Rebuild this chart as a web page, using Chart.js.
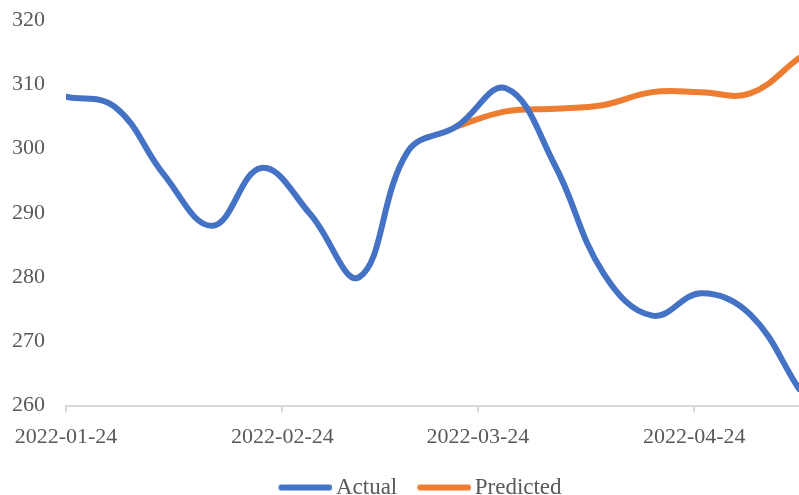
<!DOCTYPE html>
<html>
<head>
<meta charset="utf-8">
<script src="https://cdn.jsdelivr.net/npm/chart.js@4"></script>
<style>
    html, body { margin: 0; padding: 0; background: #ffffff; }
    #wrap { width: 799px; height: 495px; }
</style>
</head>
<body>
<div id="wrap"><canvas id="priceChart"></canvas></div>
<script>
// Weekly observations
const weekDates = [
    '2022-01-24', '2022-01-31', '2022-02-07', '2022-02-14', '2022-02-21', '2022-02-28',
    '2022-03-07', '2022-03-14', '2022-03-21', '2022-03-28', '2022-04-04', '2022-04-11',
    '2022-04-18', '2022-04-25', '2022-05-02', '2022-05-09'
];
const actualValues = [308.1, 306.5, 296.0, 288.0, 297.0, 289.8, 280.0, 299.6,
                      303.5, 309.4, 297.5, 280.6, 274.0, 277.5, 274.2, 262.6];
const predictedValues = [null, null, null, null, null, null, null, null,
                         303.5, 305.8, 306.2, 306.8, 308.8, 308.8, 308.6, 314.1];
const tickLabels = ['2022-01-24', '2022-02-24', '2022-03-24', '2022-04-24'];
const yTicks = [260, 270, 280, 290, 300, 310, 320];

const DAY = 24 * 3600 * 1000;
const origin = Date.parse(weekDates[0]);
const dayOf = s => Math.round((Date.parse(s) - origin) / DAY);
const tickDays = tickLabels.map(dayOf);

function toPoints(values) {
    const pts = [];
    values.forEach((v, i) => {
        if (v !== null) pts.push({ x: dayOf(weekDates[i]), y: v });
    });
    return pts;
}

// Legend swatch: a short thick line with round caps, drawn off-centre so it
// sits close to its label text
function legendLine(color) {
    const c = document.createElement('canvas');
    c.width = 67;
    c.height = 8;
    const g = c.getContext('2d');
    g.strokeStyle = color;
    g.lineWidth = 6;
    g.lineCap = 'round';
    g.beginPath();
    g.moveTo(16, 4);
    g.lineTo(64, 4);
    g.stroke();
    return c;
}

// nudge the bottom legend a little to the right of the canvas centre
const legendOffset = {
    id: 'legendOffset',
    afterLayout(chart) {
        chart.legend.left += 12;
        chart.legend.right += 12;
    }
};

const textColor = '#595959';
const axisColor = '#d9d9d9';
const font = { family: '"Liberation Serif", "DejaVu Serif", serif', size: 22 };

new Chart(document.getElementById('priceChart'), {
    type: 'line',
    data: {
        datasets: [{
            label: 'Actual',
            data: toPoints(actualValues),
            borderColor: '#4472c4',
            backgroundColor: '#4472c4',
            borderWidth: 6,
            borderCapStyle: 'round',
            tension: 0.4,
            pointRadius: 0,
            pointStyle: legendLine('#4472c4')
        }, {
            label: 'Predicted',
            data: toPoints(predictedValues),
            borderColor: '#ed7d31',
            backgroundColor: '#ed7d31',
            borderWidth: 6,
            borderCapStyle: 'round',
            tension: 0.4,
            pointRadius: 0,
            pointStyle: legendLine('#ed7d31')
        }]
    },
    options: {
        responsive: true,
        maintainAspectRatio: false,
        animation: false,
        layout: { padding: { top: 7, left: 12, right: 0, bottom: -14 } },
        scales: {
            x: {
                type: 'linear',
                min: 0,
                max: dayOf(weekDates[weekDates.length - 1]),
                afterBuildTicks: axis => { axis.ticks = tickDays.map(v => ({ value: v })); },
                ticks: {
                    color: textColor,
                    font: font,
                    padding: 11,
                    maxRotation: 0,
                    autoSkip: false,
                    callback: value => tickLabels[tickDays.indexOf(value)]
                },
                grid: {
                    drawOnChartArea: false,
                    drawTicks: true,
                    tickLength: 7,
                    color: axisColor,
                    lineWidth: 2
                },
                border: { display: true, color: axisColor, width: 2 }
            },
            y: {
                min: 260,
                max: 320,
                afterBuildTicks: axis => { axis.ticks = yTicks.map(v => ({ value: v })); },
                afterFit: axis => { axis.width = 54; },
                ticks: {
                    color: textColor,
                    font: font,
                    padding: 7,
                    crossAlign: 'far'
                },
                grid: { display: false, drawTicks: false },
                border: { display: false }
            }
        },
        plugins: {
            tooltip: { enabled: false },
            legend: {
                position: 'bottom',
                labels: {
                    color: textColor,
                    font: { family: font.family, size: 23 },
                    usePointStyle: true,
                    pointStyleWidth: 51,
                    padding: 15
                }
            }
        }
    },
    plugins: [legendOffset]
});
</script>
</body>
</html>
